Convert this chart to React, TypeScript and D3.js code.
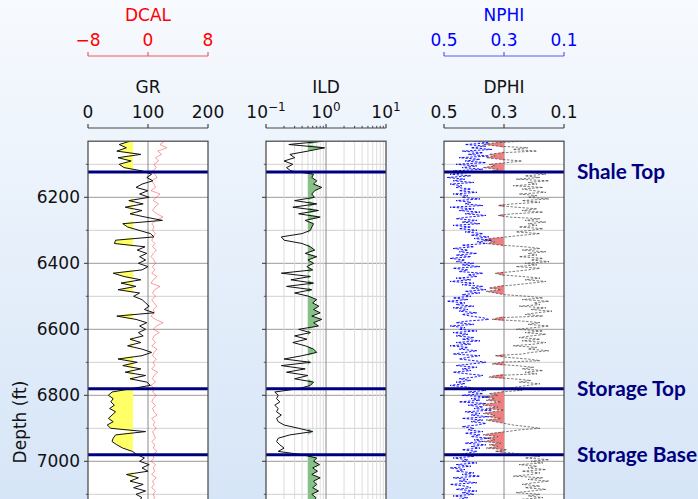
import React from 'react';
import * as d3 from 'd3';

const START_DEPTH = 6030;
const STEP = 10; // GR, DCAL, ILD sampling (ft)
const PHI_STEP = 5; // NPHI, DPHI sampling (ft)

const GR = [
  70, 52, 64, 48, 88, 50, 72, 52, 60, 90,
  106, 98, 108, 90, 80, 100, 86, 102, 68, 92,
  62, 90, 70, 96, 124, 58, 66, 85, 104, 110,
  46, 44, 95, 82, 98, 86, 96, 84, 100, 90,
  42, 60, 88, 55, 80, 50, 86, 76, 90, 96,
  102, 94, 110, 48, 80, 98, 86, 96, 84, 92,
  70, 88, 66, 90, 106, 90, 50, 82, 58, 88,
  62, 96, 70, 98, 104, 72, 40, 34, 42, 38,
  44, 36, 46, 40, 34, 42, 32, 38, 96, 46,
  42, 40, 48, 58, 74, 82, 94, 86, 102, 90,
  100, 64, 84, 70, 92, 76, 96, 80, 90, 84,
];

const DCAL = [
  2.2, 1.6, 2.5, 1.3, 1.8, 1.0, 1.4, 0.8, 1.1, 0.6,
  0.9, 1.2, 0.5, 0.8, 1.0, 0.4, 1.6, 1.1, 0.7, 1.4,
  0.9, 0.6, 1.2, 2.0, 1.0, 0.5, 0.8, 0.6, 1.0, 0.7,
  0.5, 0.9, 0.6, 1.1, 0.7, 0.4, 0.8, 1.0, 0.6, 0.9,
  0.5, 1.2, 0.7, 0.4, 1.6, 0.9, 0.6, 1.0, 0.5, 0.8,
  1.2, 0.7, 0.9, 0.4, 1.0, 2.0, 1.1, 0.7, 1.5, 0.8,
  0.6, 1.0, 0.5, 1.2, 0.8, 0.6, 1.1, 0.7, 0.9, 0.5,
  1.3, 0.8, 0.6, 1.0, 0.4, 0.9, 0.6, 1.1, 0.7, 0.5,
  1.0, 0.6, 0.8, 1.2, 0.5, 0.9, 0.7, 1.1, 0.6, 0.8,
  1.0, 0.5, 0.9, 0.7, 1.2, 0.6, 0.8, 0.4, 1.0, 0.7,
  0.9, 0.5, 1.1, 0.6, 0.8, 0.5, 1.0, 0.7, 0.9, 0.6,
];

const ILD = [
  0.9, 0.24, 0.95, 0.5, 0.25, 0.3, 0.2, 0.28, 0.22, 0.26,
  0.62, 0.58, 0.7, 0.62, 0.85, 0.65, 0.58, 0.64, 0.3, 0.7,
  0.28, 0.75, 0.35, 0.8, 0.45, 0.62, 0.58, 0.55, 0.4, 0.18,
  0.2, 0.4, 0.55, 0.65, 0.45, 0.7, 0.5, 0.62, 0.48, 0.6,
  0.18, 0.55, 0.26, 0.62, 0.22, 0.58, 0.3, 0.52, 0.7, 0.6,
  0.76, 0.62, 0.8, 0.58, 0.85, 0.62, 0.75, 0.35, 0.55, 0.3,
  0.48, 0.28, 0.45, 0.62, 0.7, 0.4, 0.2, 0.55, 0.18, 0.45,
  0.22, 0.5, 0.3, 0.62, 0.55, 0.35, 0.14, 0.16, 0.15, 0.17,
  0.14, 0.16, 0.15, 0.18, 0.15, 0.16, 0.2, 0.35, 0.6, 0.25,
  0.16, 0.15, 0.17, 0.2, 0.16, 0.4, 0.7, 0.62, 0.78, 0.6,
  0.72, 0.58, 0.8, 0.62, 0.7, 0.6, 0.75, 0.58, 0.68, 0.62,
];

const NPHI = [
  0.40, 0.35, 0.43, 0.36, 0.41, 0.34, 0.44, 0.37, 0.42, 0.35,
  0.45, 0.38, 0.43, 0.36, 0.46, 0.39, 0.44, 0.37, 0.47, 0.42,
  0.48, 0.41, 0.49, 0.43, 0.47, 0.40, 0.48, 0.44, 0.46, 0.41,
  0.45, 0.39, 0.47, 0.42, 0.44, 0.38, 0.46, 0.41, 0.43, 0.37,
  0.48, 0.40, 0.45, 0.38, 0.43, 0.36, 0.42, 0.46, 0.39, 0.44,
  0.38, 0.47, 0.41, 0.45, 0.39, 0.43, 0.37, 0.41, 0.35, 0.40,
  0.34, 0.39, 0.36, 0.44, 0.40, 0.47, 0.42, 0.45, 0.39, 0.46,
  0.41, 0.48, 0.43, 0.46, 0.40, 0.44, 0.38, 0.47, 0.42, 0.45,
  0.37, 0.42, 0.39, 0.46, 0.41, 0.48, 0.40, 0.44, 0.37, 0.41,
  0.36, 0.43, 0.38, 0.44, 0.41, 0.47, 0.42, 0.49, 0.43, 0.46,
  0.40, 0.47, 0.42, 0.45, 0.39, 0.44, 0.41, 0.37, 0.35, 0.42,
  0.46, 0.40, 0.48, 0.43, 0.45, 0.39, 0.47, 0.42, 0.46, 0.40,
  0.44, 0.38, 0.46, 0.41, 0.48, 0.42, 0.45, 0.39, 0.43, 0.47,
  0.38, 0.42, 0.45, 0.40, 0.36, 0.41, 0.46, 0.39, 0.44, 0.41,
  0.47, 0.42, 0.37, 0.40, 0.45, 0.41, 0.46, 0.43, 0.48, 0.42,
  0.40, 0.36, 0.42, 0.37, 0.44, 0.35, 0.41, 0.38, 0.45, 0.36,
  0.42, 0.37, 0.40, 0.34, 0.43, 0.38, 0.41, 0.35, 0.44, 0.37,
  0.41, 0.36, 0.39, 0.44, 0.40, 0.42, 0.37, 0.43, 0.38, 0.41,
  0.35, 0.40, 0.37, 0.43, 0.36, 0.41, 0.38, 0.44, 0.39, 0.42,
  0.45, 0.40, 0.47, 0.42, 0.44, 0.39, 0.46, 0.41, 0.48, 0.43,
  0.46, 0.40, 0.44, 0.38, 0.47, 0.42, 0.45, 0.39, 0.48, 0.43,
  0.41, 0.46, 0.39, 0.44, 0.40, 0.47, 0.42, 0.45, 0.40,
];

const DPHI = [
  0.24, 0.33, 0.37, 0.32, 0.22, 0.27, 0.19, 0.31, 0.35, 0.33,
  0.36, 0.31, 0.24, 0.29, 0.35, 0.33, 0.37, 0.32, 0.34, 0.21,
  0.16, 0.23, 0.18, 0.26, 0.15, 0.22, 0.19, 0.27, 0.17, 0.24,
  0.20, 0.16, 0.25, 0.19, 0.22, 0.15, 0.24, 0.18, 0.27, 0.32,
  0.26, 0.19, 0.24, 0.17, 0.27, 0.32, 0.28, 0.18, 0.23, 0.16,
  0.22, 0.19, 0.25, 0.17, 0.21, 0.26, 0.18, 0.24, 0.29, 0.35,
  0.37, 0.33, 0.36, 0.31, 0.23, 0.18, 0.24, 0.16, 0.22, 0.19,
  0.25, 0.17, 0.21, 0.15, 0.23, 0.19, 0.26, 0.18, 0.22, 0.27,
  0.33, 0.31, 0.24, 0.18, 0.23, 0.16, 0.21, 0.26, 0.32, 0.35,
  0.31, 0.36, 0.33, 0.30, 0.22, 0.17, 0.24, 0.15, 0.20, 0.18,
  0.25, 0.16, 0.21, 0.14, 0.19, 0.23, 0.17, 0.32, 0.34, 0.24,
  0.18, 0.22, 0.15, 0.20, 0.26, 0.17, 0.23, 0.16, 0.21, 0.25,
  0.18, 0.24, 0.16, 0.20, 0.27, 0.19, 0.22, 0.15, 0.21, 0.24,
  0.33, 0.29, 0.22, 0.18, 0.31, 0.34, 0.26, 0.20, 0.24, 0.17,
  0.23, 0.19, 0.33, 0.35, 0.27, 0.21, 0.25, 0.18, 0.22, 0.26,
  0.29, 0.24, 0.31, 0.35, 0.32, 0.37, 0.33, 0.36, 0.31, 0.35,
  0.37, 0.32, 0.36, 0.30, 0.34, 0.37, 0.33, 0.35, 0.31, 0.36,
  0.33, 0.30, 0.27, 0.22, 0.18, 0.25, 0.29, 0.34, 0.37, 0.32,
  0.36, 0.33, 0.37, 0.31, 0.35, 0.32, 0.36, 0.29, 0.33, 0.27,
  0.24, 0.18, 0.23, 0.15, 0.21, 0.17, 0.25, 0.19, 0.22, 0.16,
  0.24, 0.18, 0.21, 0.27, 0.17, 0.22, 0.15, 0.20, 0.24, 0.18,
  0.23, 0.16, 0.21, 0.26, 0.18, 0.22, 0.17, 0.24, 0.19,
];

const TOPS = [
  { name: 'Shale Top', depth: 6123 },
  { name: 'Storage Top', depth: 6780 },
  { name: 'Storage Base', depth: 6980 },
];

const DEPTH_MAJOR = [6200, 6400, 6600, 6800, 7000];
const DEPTH_MINOR = [6100, 6300, 6500, 6700, 6900, 7100];
const GR_TICKS = [0, 100, 200];
const DCAL_TICKS = [-8, 0, 8];
const ILD_TICKS = [0.1, 1, 10];
const ILD_EXP = ['\u22121', '0', '1'];
const PHI_TICKS = [0.5, 0.3, 0.1];
const GR_CUT = 75;
const ILD_CUT = 0.5;
const PHI_CUT = 0.3;

const W = 698;
const H = 499;
const FONT = '"DejaVu Sans", sans-serif';
const TOP = 141.2;
const TW = 120;

const fmtMinus = (v: number) => String(v).replace('-', '\u2212');

export default function App() {
  const depths = GR.map((_, i) => START_DEPTH + i * STEP);
  const phiDepths = NPHI.map((_, i) => START_DEPTH + i * PHI_STEP);
  const y = d3.scaleLinear().domain([6030, 7200]).range([TOP, 527.3]);
  const xGR = d3.scaleLinear().domain([0, 200]).range([88, 208]);
  const xDCAL = d3.scaleLinear().domain([-8, 8]).range([88, 208]);
  const xILD = d3.scaleLog().domain([0.1, 10]).range([266, 386]);
  const xPHI = d3.scaleLinear().domain([0.5, 0.1]).range([444, 564]);
  const trackX = [88, 266, 444];

  const line = (dep: number[], xs: (i: number) => number) =>
    d3.line<number>().x((_, i) => xs(i)).y((_, i) => y(dep[i]))(dep) || '';

  const grFill = d3.area<number>()
    .y((_, i) => y(depths[i]))
    .x0(() => xGR(GR_CUT))
    .x1((_, i) => xGR(Math.min(GR[i], GR_CUT)))(depths) || '';
  const ildFill = d3.area<number>()
    .y((_, i) => y(depths[i]))
    .x0(() => xILD(ILD_CUT))
    .x1((_, i) => xILD(Math.max(ILD[i], ILD_CUT)))(depths) || '';
  const phiFill = d3.area<number>()
    .y((_, i) => y(phiDepths[i]))
    .x0(() => xPHI(PHI_CUT))
    .x1((_, i) => xPHI(Math.max(DPHI[i], PHI_CUT)))(phiDepths) || '';

  const ildMinor = xILD.ticks().filter((t) => !ILD_TICKS.some((m) => Math.abs(m - t) < 1e-9));

  const topAxis = (
    key: string,
    scale: (v: number) => number,
    ticks: number[],
    labels: React.ReactNode[],
    yLine: number,
    title: string,
    textColor: string,
    lineColor: string,
    minor: number[] = []
  ) => (
    <g key={key} fontFamily={FONT} fontSize={17}>
      <line x1={scale(ticks[0])} x2={scale(ticks[ticks.length - 1])} y1={yLine} y2={yLine} stroke={lineColor} strokeWidth={1.2} />
      {ticks.map((t) => (
        <line key={'t' + t} x1={scale(t)} x2={scale(t)} y1={yLine} y2={yLine - 4} stroke={lineColor} strokeWidth={1.2} />
      ))}
      {minor.map((t) => (
        <line key={'m' + t} x1={scale(t)} x2={scale(t)} y1={yLine} y2={yLine - 2.2} stroke={lineColor} strokeWidth={1} />
      ))}
      {ticks.map((t, i) => (
        <text key={'l' + t} x={scale(t)} y={yLine - 10} textAnchor="middle" fill={textColor}>{labels[i]}</text>
      ))}
      <text x={(scale(ticks[0]) + scale(ticks[ticks.length - 1])) / 2} y={yLine - 35} textAnchor="middle" fill={textColor}>{title}</text>
    </g>
  );

  return (
    <div style={{ position: 'fixed', left: 0, top: 0, width: W, height: H }}>
      <svg width={W} height={H} style={{ display: 'block' }}>
        <defs>
          <linearGradient id="bg" x1="0" y1="0" x2="0" y2="1">
            <stop offset="0" stopColor="#f7fafe" />
            <stop offset="1" stopColor="#d6e5f7" />
          </linearGradient>
          {trackX.map((tx, k) => (
            <clipPath id={'clip' + k} key={k}>
              <rect x={tx} y={TOP} width={TW} height={H} />
            </clipPath>
          ))}
        </defs>
        <rect x={0} y={0} width={W} height={H} fill="url(#bg)" />

        {trackX.map((tx, k) => (
          <g key={'trk' + k}>
            <rect x={tx} y={TOP} width={TW} height={H} fill="#ffffff" />
            <g clipPath={`url(#clip${k})`}>
              {DEPTH_MINOR.map((d) => (
                <line key={'hm' + d} x1={tx} x2={tx + TW} y1={y(d)} y2={y(d)} stroke="#d0d0d0" strokeWidth={1} />
              ))}
              {DEPTH_MAJOR.map((d) => (
                <line key={'hM' + d} x1={tx} x2={tx + TW} y1={y(d)} y2={y(d)} stroke="#9a9a9a" strokeWidth={1} />
              ))}
            </g>
            {DEPTH_MAJOR.map((d) => (
              <line key={'tM' + d} x1={tx - 4} x2={tx} y1={y(d)} y2={y(d)} stroke="#333" strokeWidth={1} />
            ))}
            {DEPTH_MINOR.map((d) => (
              <line key={'tm' + d} x1={tx - 2.2} x2={tx} y1={y(d)} y2={y(d)} stroke="#333" strokeWidth={0.8} />
            ))}
          </g>
        ))}

        {/* Track 1: GR + DCAL */}
        <g clipPath="url(#clip0)">
          <line x1={xGR(100)} x2={xGR(100)} y1={TOP} y2={H} stroke="#8a8a8a" strokeWidth={1} />
          <path d={grFill} fill="#ffff66" stroke="none" />
          <path d={line(depths, (i) => xDCAL(DCAL[i]))} fill="none" stroke="#ff3030" strokeOpacity={0.6} strokeWidth={0.8} />
          <path d={line(depths, (i) => xGR(GR[i]))} fill="none" stroke="#111" strokeWidth={1} />
        </g>

        {/* Track 2: ILD */}
        <g clipPath="url(#clip1)">
          {ildMinor.map((t) => (
            <line key={'v' + t} x1={xILD(t)} x2={xILD(t)} y1={TOP} y2={H} stroke="#dcdcdc" strokeWidth={1} />
          ))}
          <line x1={xILD(1)} x2={xILD(1)} y1={TOP} y2={H} stroke="#8a8a8a" strokeWidth={1} />
          <path d={ildFill} fill="#86c286" stroke="none" />
          <path d={line(depths, (i) => xILD(ILD[i]))} fill="none" stroke="#111" strokeWidth={1} />
        </g>

        {/* Track 3: DPHI + NPHI */}
        <g clipPath="url(#clip2)">
          <line x1={xPHI(0.3)} x2={xPHI(0.3)} y1={TOP} y2={H} stroke="#8a8a8a" strokeWidth={1} />
          <path d={phiFill} fill="#f08080" stroke="none" />
          <path d={line(phiDepths, (i) => xPHI(DPHI[i]))} fill="none" stroke="#444" strokeWidth={0.7} strokeDasharray="2.5,1.5" />
          <path d={line(phiDepths, (i) => xPHI(NPHI[i]))} fill="none" stroke="#0000ff" strokeWidth={0.9} strokeDasharray="2.5,1.5" />
        </g>

        {/* Formation tops */}
        {TOPS.map((t) => (
          <g key={t.name}>
            {trackX.map((tx) => (
              <line key={tx} x1={tx} x2={tx + TW} y1={y(t.depth)} y2={y(t.depth)} stroke="#00007f" strokeWidth={3} />
            ))}
            <text x={577} y={y(t.depth) - 1} dominantBaseline="central" fill="#00007f" fontFamily="Lato, 'Open Sans', sans-serif" fontWeight="bold" fontSize={20.8}>{t.name}</text>
          </g>
        ))}

        {/* Frames */}
        {trackX.map((tx) => (
          <rect key={'f' + tx} x={tx} y={TOP} width={TW} height={H} fill="none" stroke="#444" strokeWidth={1.2} />
        ))}

        {/* Depth labels */}
        <g fontFamily={FONT} fontSize={17} fill="#111">
          {DEPTH_MAJOR.map((d) => (
            <text key={d} x={80} y={y(d)} dy="0.35em" textAnchor="end">{d}</text>
          ))}
          <text transform="translate(25.5,422) rotate(-90)" textAnchor="middle">Depth (ft)</text>
        </g>

        {/* Top axes */}
        {topAxis('gr', xGR, GR_TICKS, GR_TICKS.map(String), 128, 'GR', '#111', '#444')}
        {topAxis('dcal', xDCAL, DCAL_TICKS, DCAL_TICKS.map(fmtMinus), 56, 'DCAL', '#ff0000', '#f05a5a')}
        {topAxis('ild', xILD, ILD_TICKS,
          ILD_TICKS.map((_, i) => (
            <>
              <tspan>10</tspan>
              <tspan dy={-7} fontSize={12}>{ILD_EXP[i]}</tspan>
            </>
          )), 128, 'ILD', '#111', '#444', ildMinor)}
        {topAxis('dphi', xPHI, PHI_TICKS, PHI_TICKS.map(String), 128, 'DPHI', '#111', '#444')}
        {topAxis('nphi', xPHI, PHI_TICKS, PHI_TICKS.map(String), 56, 'NPHI', '#0000ff', '#5a5af0')}
      </svg>
    </div>
  );
}
